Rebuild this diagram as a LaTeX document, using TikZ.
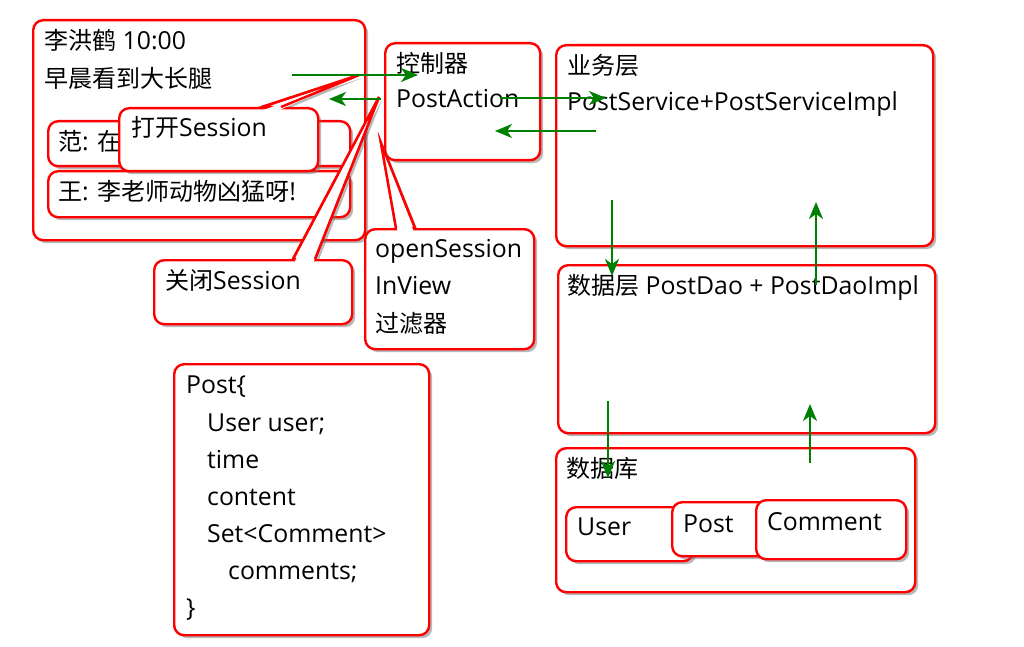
\documentclass[tikz,border=0pt]{standalone}
\usepackage{fontspec}
\setmainfont{Open Sans}
\newfontfamily\cjk[Scale=0.968]{Noto Sans CJK SC}
\usetikzlibrary{shadows,arrows.meta,calc}
\definecolor{arrgreen}{RGB}{0,128,0}
\tikzset{
  shadowed/.style={drop shadow={opacity=0.5, shadow xshift=3pt, shadow yshift=-3pt, fill=black!55}},
  box/.style={draw=red, line width=2.4pt, rounded corners=10pt, fill=white, shadowed, anchor=north west, inner sep=0pt},
  tailfill/.style={fill=white, draw=red, line width=2.4pt, line join=miter, shadowed},
  tailline/.style={draw=red, line width=2.4pt},
  txt/.style={anchor=base west, inner sep=0pt, font=\fontsize{24.8}{28}\selectfont},
  arr/.style={draw=arrgreen, line width=2.3pt, -{Stealth[length=17pt,width=14pt,inset=5pt]}}
}
\begin{document}
\begin{tikzpicture}[x=1pt,y=-1pt]
\useasboundingbox[fill=white] (0,0) rectangle (1024,647);

% ---------- left page box ----------
\node[box, minimum width=332, minimum height=220] (page) at (32,19) {};
\node[txt] (t1) at (44,50) {{\cjk 李洪鹤} 10:00};
\node[txt] (t2) at (44,88) {\cjk 早晨看到大长腿};
\node[box, minimum width=302, minimum height=45] (fan) at (47,120) {};
\node[txt] (tfan) at (58,150) {{\cjk 范}: {\cjk 在}};
\node[box, minimum width=302, minimum height=46] (wang) at (47,170) {};
\node[txt] (twang) at (58,200) {{\cjk 王}: {\cjk 李老师动物凶猛呀}!};

% ---------- callout: 打开Session ----------
\coordinate (o1a) at (262,107);
\coordinate (o1b) at (281,107);
\coordinate (o1t) at (359,75);
\path[tailfill] (o1a) -- (o1t) -- (o1b) -- cycle;
\node[box, minimum width=199, minimum height=63] (open) at (118,107) {};
\fill[white] ($(o1a)+(1.5,3)$) -- (o1t) -- ($(o1b)+(-1.5,3)$) -- cycle;
\draw[tailline] (o1a) -- (o1t) -- (o1b);
\node[txt] (topen) at (131,137) {{\cjk 打开}Session};

% ---------- callout: 关闭Session ----------
\coordinate (o2a) at (293,259);
\coordinate (o2b) at (315,259);
\coordinate (o2t) at (379,97);
\path[tailfill] (o2a) -- (o2t) -- (o2b) -- cycle;
\node[box, minimum width=198, minimum height=64] (close) at (153,259) {};
\fill[white] ($(o2a)+(1.5,3)$) -- (o2t) -- ($(o2b)+(-1.5,3)$) -- cycle;
\draw[tailline] (o2a) -- (o2t) -- (o2b);
\node[txt] (tclose) at (165,289) {{\cjk 关闭}Session};

% ---------- controller ----------
\node[box, minimum width=155, minimum height=117] (ctrl) at (384,42) {};
\node[txt] (tc1) at (396,73) {\cjk 控制器};
\node[txt] (tc2) at (396,108) {PostAction};

% ---------- callout: openSessionInView ----------
\coordinate (o3a) at (396,228);
\coordinate (o3b) at (415,228);
\coordinate (o3t) at (381,143);
\path[tailfill] (o3a) -- (o3t) -- (o3b) -- cycle;
\node[box, minimum width=169, minimum height=120] (osiv) at (364,228) {};
\fill[white] ($(o3a)+(1.5,3)$) -- (o3t) -- ($(o3b)+(-1.5,3)$) -- cycle;
\draw[tailline] (o3a) -- (o3t) -- (o3b);
\node[txt] (to1) at (375,257) {openSession};
\node[txt] (to2) at (375,294) {InView};
\node[txt] (to3) at (375,332) {\cjk 过滤器};

% ---------- service layer ----------
\node[box, minimum width=377, minimum height=201] (svc) at (555,44) {};
\node[txt] (ts1) at (567,75) {\cjk 业务层};
\node[txt] (ts2) at (567,111) {PostService+PostServiceImpl};

% ---------- dao layer ----------
\node[box, minimum width=377, minimum height=168] (dao) at (557,264) {};
\node[txt] (td1) at (567,294) {{\cjk 数据层} PostDao + PostDaoImpl};

% ---------- database ----------
\node[box, minimum width=359, minimum height=144] (db) at (555,447) {};
\node[txt] (tdb) at (566,477) {\cjk 数据库};
\node[box, minimum width=127, minimum height=54] (user) at (565,506) {};
\node[txt] (tuser) at (577,535) {User};
\node[box, minimum width=111, minimum height=54] (post) at (671,501) {};
\node[txt] (tpost) at (683,532) {Post};
\node[box, minimum width=150, minimum height=59] (comm) at (755,499) {};
\node[txt] (tcomm) at (767,530) {Comment};

% ---------- Post class ----------
\node[box, minimum width=255, minimum height=271] (cls) at (173,363) {};
\node[txt] (p1) at (186,393) {Post\{};
\node[txt] (p2) at (207,431) {User user;};
\node[txt] (p3) at (207,468) {time};
\node[txt] (p4) at (207,505) {content};
\node[txt] (p5) at (207,542) {Set<Comment>};
\node[txt] (p6) at (228,579) {comments;};
\node[txt] (p7) at (186,616) {\}};

% ---------- green arrows ----------
\coordinate (a1s) at (292,75);  \coordinate (a1e) at (418,75);
\coordinate (a2s) at (381,99);  \coordinate (a2e) at (329,99);
\coordinate (a3s) at (500,98);  \coordinate (a3e) at (606,98);
\coordinate (a4s) at (596,131); \coordinate (a4e) at (495,131);
\coordinate (a5s) at (612,200); \coordinate (a5e) at (612,276);
\coordinate (a6s) at (816,285); \coordinate (a6e) at (816,202);
\coordinate (a7s) at (608,401); \coordinate (a7e) at (608,478);
\coordinate (a8s) at (810,463); \coordinate (a8e) at (810,404);
\draw[arr] (a1s) -- (a1e);
\draw[arr] (a2s) -- (a2e);
\draw[arr] (a3s) -- (a3e);
\draw[arr] (a4s) -- (a4e);
\draw[arr] (a5s) -- (a5e);
\draw[arr] (a6s) -- (a6e);
\draw[arr] (a7s) -- (a7e);
\draw[arr] (a8s) -- (a8e);
\end{tikzpicture}
\end{document}
